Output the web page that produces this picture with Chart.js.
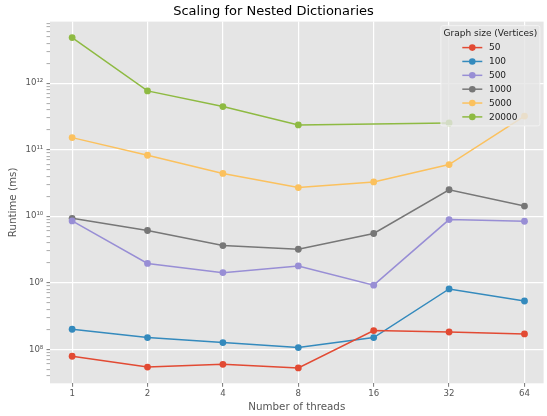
<!DOCTYPE html>
<html>
<head>
<meta charset="utf-8">
<script src="https://cdn.jsdelivr.net/npm/chart.js@4/dist/chart.umd.min.js"></script>
<style>
  html, body { margin: 0; padding: 0; background: #fff; }
  #wrap { width: 547px; height: 416px; }
</style>
</head>
<body>
<div id="wrap"><canvas id="chart" width="547" height="416"></canvas></div>
<script>
// x categories (threads) and runtimes in ms per graph size
var threads = [1, 2, 4, 8, 16, 32, 64];
var sizeLabels = ['50', '100', '500', '1000', '5000', '20000'];
var runtime50 = [7.85e7, 5.4e7, 5.95e7, 5.25e7, 1.91e8, 1.82e8, 1.70e8];
var runtime100 = [2.0e8, 1.5e8, 1.26e8, 1.06e8, 1.5e8, 8.07e8, 5.32e8];
var runtime500 = [8.5e9, 1.95e9, 1.42e9, 1.79e9, 9.2e8, 8.9e9, 8.4e9];
var runtime1000 = [9.3e9, 6.1e9, 3.62e9, 3.19e9, 5.5e9, 2.5e10, 1.42e10];
var runtime5000 = [1.52e11, 8.26e10, 4.4e10, 2.7e10, 3.28e10, 5.98e10, 3.2e11];
var runtime20000 = [4.85e12, 7.66e11, 4.45e11, 2.36e11, null, 2.53e11, null];

var colors = ['#E24A33', '#348ABD', '#988ED5', '#777777', '#FBC15E', '#8EBA42'];
var series = [runtime50, runtime100, runtime500, runtime1000, runtime5000, runtime20000];
var FONT = "'DejaVu Sans', sans-serif";

function toPoints(values) {
    return values.map(function (v, i) { return { x: threads[i], y: v }; });
}

function isDecade(v) {
    var e = Math.log10(v);
    return Math.abs(e - Math.round(e)) < 1e-9;
}

var supDigits = { '0': '\u2070', '1': '\u00B9', '2': '\u00B2', '3': '\u00B3', '4': '\u2074',
    '5': '\u2075', '6': '\u2076', '7': '\u2077', '8': '\u2078', '9': '\u2079' };
function decadeLabel(v) {
    var e = String(Math.round(Math.log10(v)));
    return '10' + e.split('').map(function (c) { return supDigits[c]; }).join('');
}

// grey panel behind the plot
var panelBackground = {
    id: 'panelBackground',
    beforeDraw: function (chart) {
        var a = chart.chartArea, ctx = chart.ctx;
        ctx.save();
        ctx.fillStyle = '#E5E5E5';
        ctx.fillRect(a.left, a.top, a.right - a.left, a.bottom - a.top);
        ctx.restore();
    }
};

// matplotlib-like legend box inside the axes, top right
var insideLegend = {
    id: 'insideLegend',
    afterDraw: function (chart) {
        var ctx = chart.ctx, a = chart.chartArea;
        var right = a.right - 3.7, top = a.top + 4;
        var w = 99, h = 100.3;
        var left = right - w;
        ctx.save();
        ctx.fillStyle = 'rgba(229,229,229,0.8)';
        ctx.strokeStyle = 'rgba(245,245,245,0.8)';
        ctx.lineWidth = 1;
        ctx.beginPath();
        ctx.roundRect(left, top, w, h, 2);
        ctx.fill();
        ctx.stroke();

        ctx.fillStyle = '#222';
        ctx.font = '9px ' + FONT;
        ctx.textAlign = 'center';
        ctx.textBaseline = 'middle';
        ctx.fillText('Graph size (Vertices)', left + w / 2, top + 8.3);

        chart.data.datasets.forEach(function (ds, i) {
            var y = top + 22 + i * 13.86;
            var lx = left + 21.4;
            ctx.strokeStyle = ds.borderColor;
            ctx.lineWidth = 1.5;
            ctx.beginPath();
            ctx.moveTo(lx, y);
            ctx.lineTo(lx + 20, y);
            ctx.stroke();
            ctx.fillStyle = ds.borderColor;
            ctx.beginPath();
            ctx.arc(lx + 10, y, 3.3, 0, Math.PI * 2);
            ctx.fill();
            ctx.fillStyle = '#222';
            ctx.textAlign = 'left';
            ctx.fillText(ds.label, left + 48, y + 0.5);
        });
        ctx.restore();
    }
};

var datasets = series.map(function (values, i) {
    return {
        label: sizeLabels[i],
        data: toPoints(values),
        borderColor: colors[i],
        backgroundColor: colors[i],
        borderWidth: 1.5,
        pointRadius: 3.4,
        pointBorderWidth: 0,
        pointHoverRadius: 3.4,
        spanGaps: true,
        tension: 0
    };
});

var ctx = document.getElementById('chart').getContext('2d');
new Chart(ctx, {
    type: 'line',
    data: { datasets: datasets },
    options: {
        responsive: false,
        animation: false,
        layout: { padding: 0 },
        plugins: {
            legend: { display: false },
            tooltip: { enabled: false },
            title: {
                display: true,
                text: 'Scaling for Nested Dictionaries',
                color: '#000',
                font: { family: FONT, size: 13, weight: 'normal' },
                padding: { top: 4, bottom: 2 }
            }
        },
        scales: {
            x: {
                type: 'logarithmic',
                min: 0.816,
                max: 76.3,
                afterBuildTicks: function (scale) {
                    scale.ticks = threads.map(function (t) { return { value: t }; });
                },
                afterFit: function (scale) { scale.height = 32.7; },
                ticks: {
                    autoSkip: false,
                    maxRotation: 0,
                    color: '#555555',
                    padding: 2.2,
                    font: { family: FONT, size: 8.6 },
                    callback: function (v) { return String(v); }
                },
                grid: {
                    color: '#FFFFFF',
                    lineWidth: 1.2,
                    tickColor: '#555555',
                    tickLength: 3.5,
                    tickWidth: 0.8
                },
                border: { display: false },
                title: {
                    display: true,
                    text: 'Number of threads',
                    color: '#555555',
                    font: { family: FONT, size: 10.3 },
                    padding: { top: 0, bottom: 2.5 }
                }
            },
            y: {
                type: 'logarithmic',
                min: 3.08e7,
                max: 8.43e12,
                afterBuildTicks: function (scale) {
                    var ticks = [];
                    for (var e = 7; e <= 12; e++) {
                        for (var m = 1; m <= 9; m++) {
                            var v = m * Math.pow(10, e);
                            if (v >= scale.min && v <= scale.max) ticks.push({ value: v });
                        }
                    }
                    scale.ticks = ticks;
                },
                afterFit: function (scale) { scale.width = 50; },
                ticks: {
                    autoSkip: false,
                    color: '#555555',
                    padding: 3.2,
                    font: { family: FONT, size: 8.6 },
                    callback: function (v) { return isDecade(v) ? decadeLabel(v) : ''; }
                },
                grid: {
                    color: function (c) {
                        return c.tick && isDecade(c.tick.value) ? '#FFFFFF' : 'rgba(0,0,0,0)';
                    },
                    lineWidth: 1.2,
                    tickColor: '#555555',
                    tickLength: 3.5,
                    tickWidth: function (c) {
                        return c.tick && isDecade(c.tick.value) ? 0.8 : 0.5;
                    }
                },
                border: { display: false },
                title: {
                    display: true,
                    text: 'Runtime (ms)',
                    color: '#555555',
                    font: { family: FONT, size: 10.3 },
                    padding: { top: 7.1, bottom: 0 }
                }
            }
        }
    },
    plugins: [panelBackground, insideLegend]
});
</script>
</body>
</html>
